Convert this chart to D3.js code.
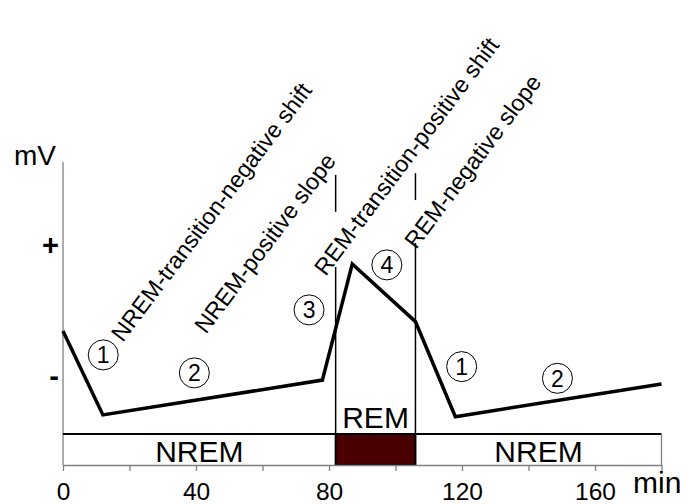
<!DOCTYPE html>
<html>
<head>
<meta charset="utf-8">
<script src="https://cdn.jsdelivr.net/npm/d3@7"></script>
<style>
  html, body { margin: 0; padding: 0; background: #fff; }
  svg { display: block; font-family: "Liberation Sans", Arial, sans-serif; }
</style>
</head>
<body>
<svg id="chart" width="696" height="504"></svg>
<script>
// ---- data ----
const times   = [0, 12, 78, 87, 106, 118, 180];          // min
const values  = [44.7, 16.7, 28.3, 67, 47.8, 16.1, 27];   // arbitrary mV units
const stages  = [
  { name: "NREM", start: 0,   end: 82 },
  { name: "REM",  start: 82,  end: 106 },
  { name: "NREM", start: 106, end: 180 }
];
const xTickValues = [0, 20, 40, 60, 80, 100, 120, 140, 160, 180];
const xTickLabels = ["0", "", "40", "", "80", "", "120", "", "160", ""];
const yTickValues = [73.3, 28.7];
const yTickLabels = ["+", "-"];
const circleNums  = ["1", "2", "3", "4", "1", "2"];
const circleT     = [12.1, 39.5, 74, 97.4, 119.9, 148.7];
const circleV     = [36.7, 30.7, 51.7, 66.7, 32.8, 28.9];
const labelTexts  = ["NREM-transition-negative shift", "NREM-positive slope",
                     "REM-transition-positive shift", "REM-negative slope"];
const labelT      = [18.0, 43.0, 79.0, 106.2];
const labelV      = [40.7, 43.4, 62.7, 71.7];
const markerT     = [82, 106];
const markerSegs  = [[[96.7, 84.4], [66, 10.3]], [[97.3, 88.3], [74, 10.3]]];
const bandTop = 10.33;

// ---- scales ----
const svg = d3.select("#chart");
const x = d3.scaleLinear().domain([0, 180]).range([63, 661.5]);
const y = d3.scaleLinear().domain([0, 100]).range([465, 165]);
const axisColor = "#808080";

// y axis line
svg.append("line")
  .attr("x1", x(0)).attr("x2", x(0))
  .attr("y1", y(101)).attr("y2", y(0))
  .attr("stroke", axisColor).attr("stroke-width", 1.3);

// y tick labels (+ / -)
svg.selectAll("text.ylab").data(yTickValues).enter().append("text")
  .attr("class", "ylab")
  .attr("x", x(0) - 4)
  .attr("y", (d, i) => y(d) + (i === 0 ? 10 : 7.5))
  .attr("text-anchor", "end")
  .attr("font-size", 29).attr("font-weight", "bold")
  .text((d, i) => yTickLabels[i]);

svg.append("text").attr("x", 56).attr("y", 165)
  .attr("text-anchor", "end").attr("font-size", 28).text("mV");

// hypnogram band
svg.append("line")
  .attr("x1", x(0)).attr("x2", x(180))
  .attr("y1", y(bandTop)).attr("y2", y(bandTop))
  .attr("stroke", "#000").attr("stroke-width", 2);
svg.append("line")
  .attr("x1", x(180)).attr("x2", x(180))
  .attr("y1", y(bandTop)).attr("y2", y(0))
  .attr("stroke", axisColor).attr("stroke-width", 1.3);

stages.filter(s => s.name === "REM").forEach(s => {
  svg.append("rect")
    .attr("x", x(s.start)).attr("y", y(bandTop))
    .attr("width", x(s.end) - x(s.start))
    .attr("height", y(0) - y(bandTop))
    .attr("fill", "#4a0000").attr("stroke", "#000").attr("stroke-width", 2);
});

// stage labels
svg.selectAll("text.stage").data(stages).enter().append("text")
  .attr("class", "stage")
  .attr("x", d => x((d.start + d.end) / 2))
  .attr("y", d => d.name === "REM" ? 428 : 462)
  .attr("text-anchor", "middle")
  .attr("font-size", 30)
  .text(d => d.name);

// x axis
const xAxis = d3.axisBottom(x)
  .tickValues(xTickValues)
  .tickSize(6).tickSizeOuter(0)
  .tickFormat((d, i) => xTickLabels[i]);
const gx = svg.append("g").attr("transform", `translate(0,${y(0)})`).call(xAxis);
gx.select(".domain").attr("stroke", axisColor).attr("stroke-width", 1.3);
gx.selectAll(".tick line").attr("stroke", axisColor).attr("stroke-width", 1.3);
gx.selectAll(".tick text")
  .attr("fill", "#000").attr("font-size", 24.5)
  .attr("font-family", "Liberation Sans, Arial, sans-serif")
  .attr("dy", null).attr("y", 35);

svg.append("text").attr("x", 633).attr("y", 493)
  .attr("font-size", 30).text("min");

// vertical markers
markerT.forEach((t, i) => {
  markerSegs[i].forEach(seg => {
    svg.append("line")
      .attr("x1", x(t)).attr("x2", x(t))
      .attr("y1", y(seg[0])).attr("y2", y(seg[1]))
      .attr("stroke", "#000").attr("stroke-width", 1.5);
  });
});

// potential line
const pts = times.map((t, i) => [t, values[i]]);
svg.append("path")
  .datum(pts)
  .attr("fill", "none").attr("stroke", "#000")
  .attr("stroke-width", 3.5).attr("stroke-linejoin", "miter")
  .attr("d", d3.line().x(d => x(d[0])).y(d => y(d[1])));

// circled numbers
circleNums.forEach((n, i) => {
  const g = svg.append("g").attr("transform", `translate(${x(circleT[i])},${y(circleV[i])})`);
  g.append("circle").attr("r", 15).attr("fill", "none")
    .attr("stroke", "#000").attr("stroke-width", 1);
  g.append("text").attr("text-anchor", "middle").attr("y", 8.5)
    .attr("font-size", 23).text(n);
});

// rotated labels
labelTexts.forEach((txt, i) => {
  svg.append("text")
    .attr("transform", `translate(${x(labelT[i])},${y(labelV[i])}) rotate(-53)`)
    .attr("font-size", 23.3)
    .text(txt);
});
</script>
</body>
</html>
